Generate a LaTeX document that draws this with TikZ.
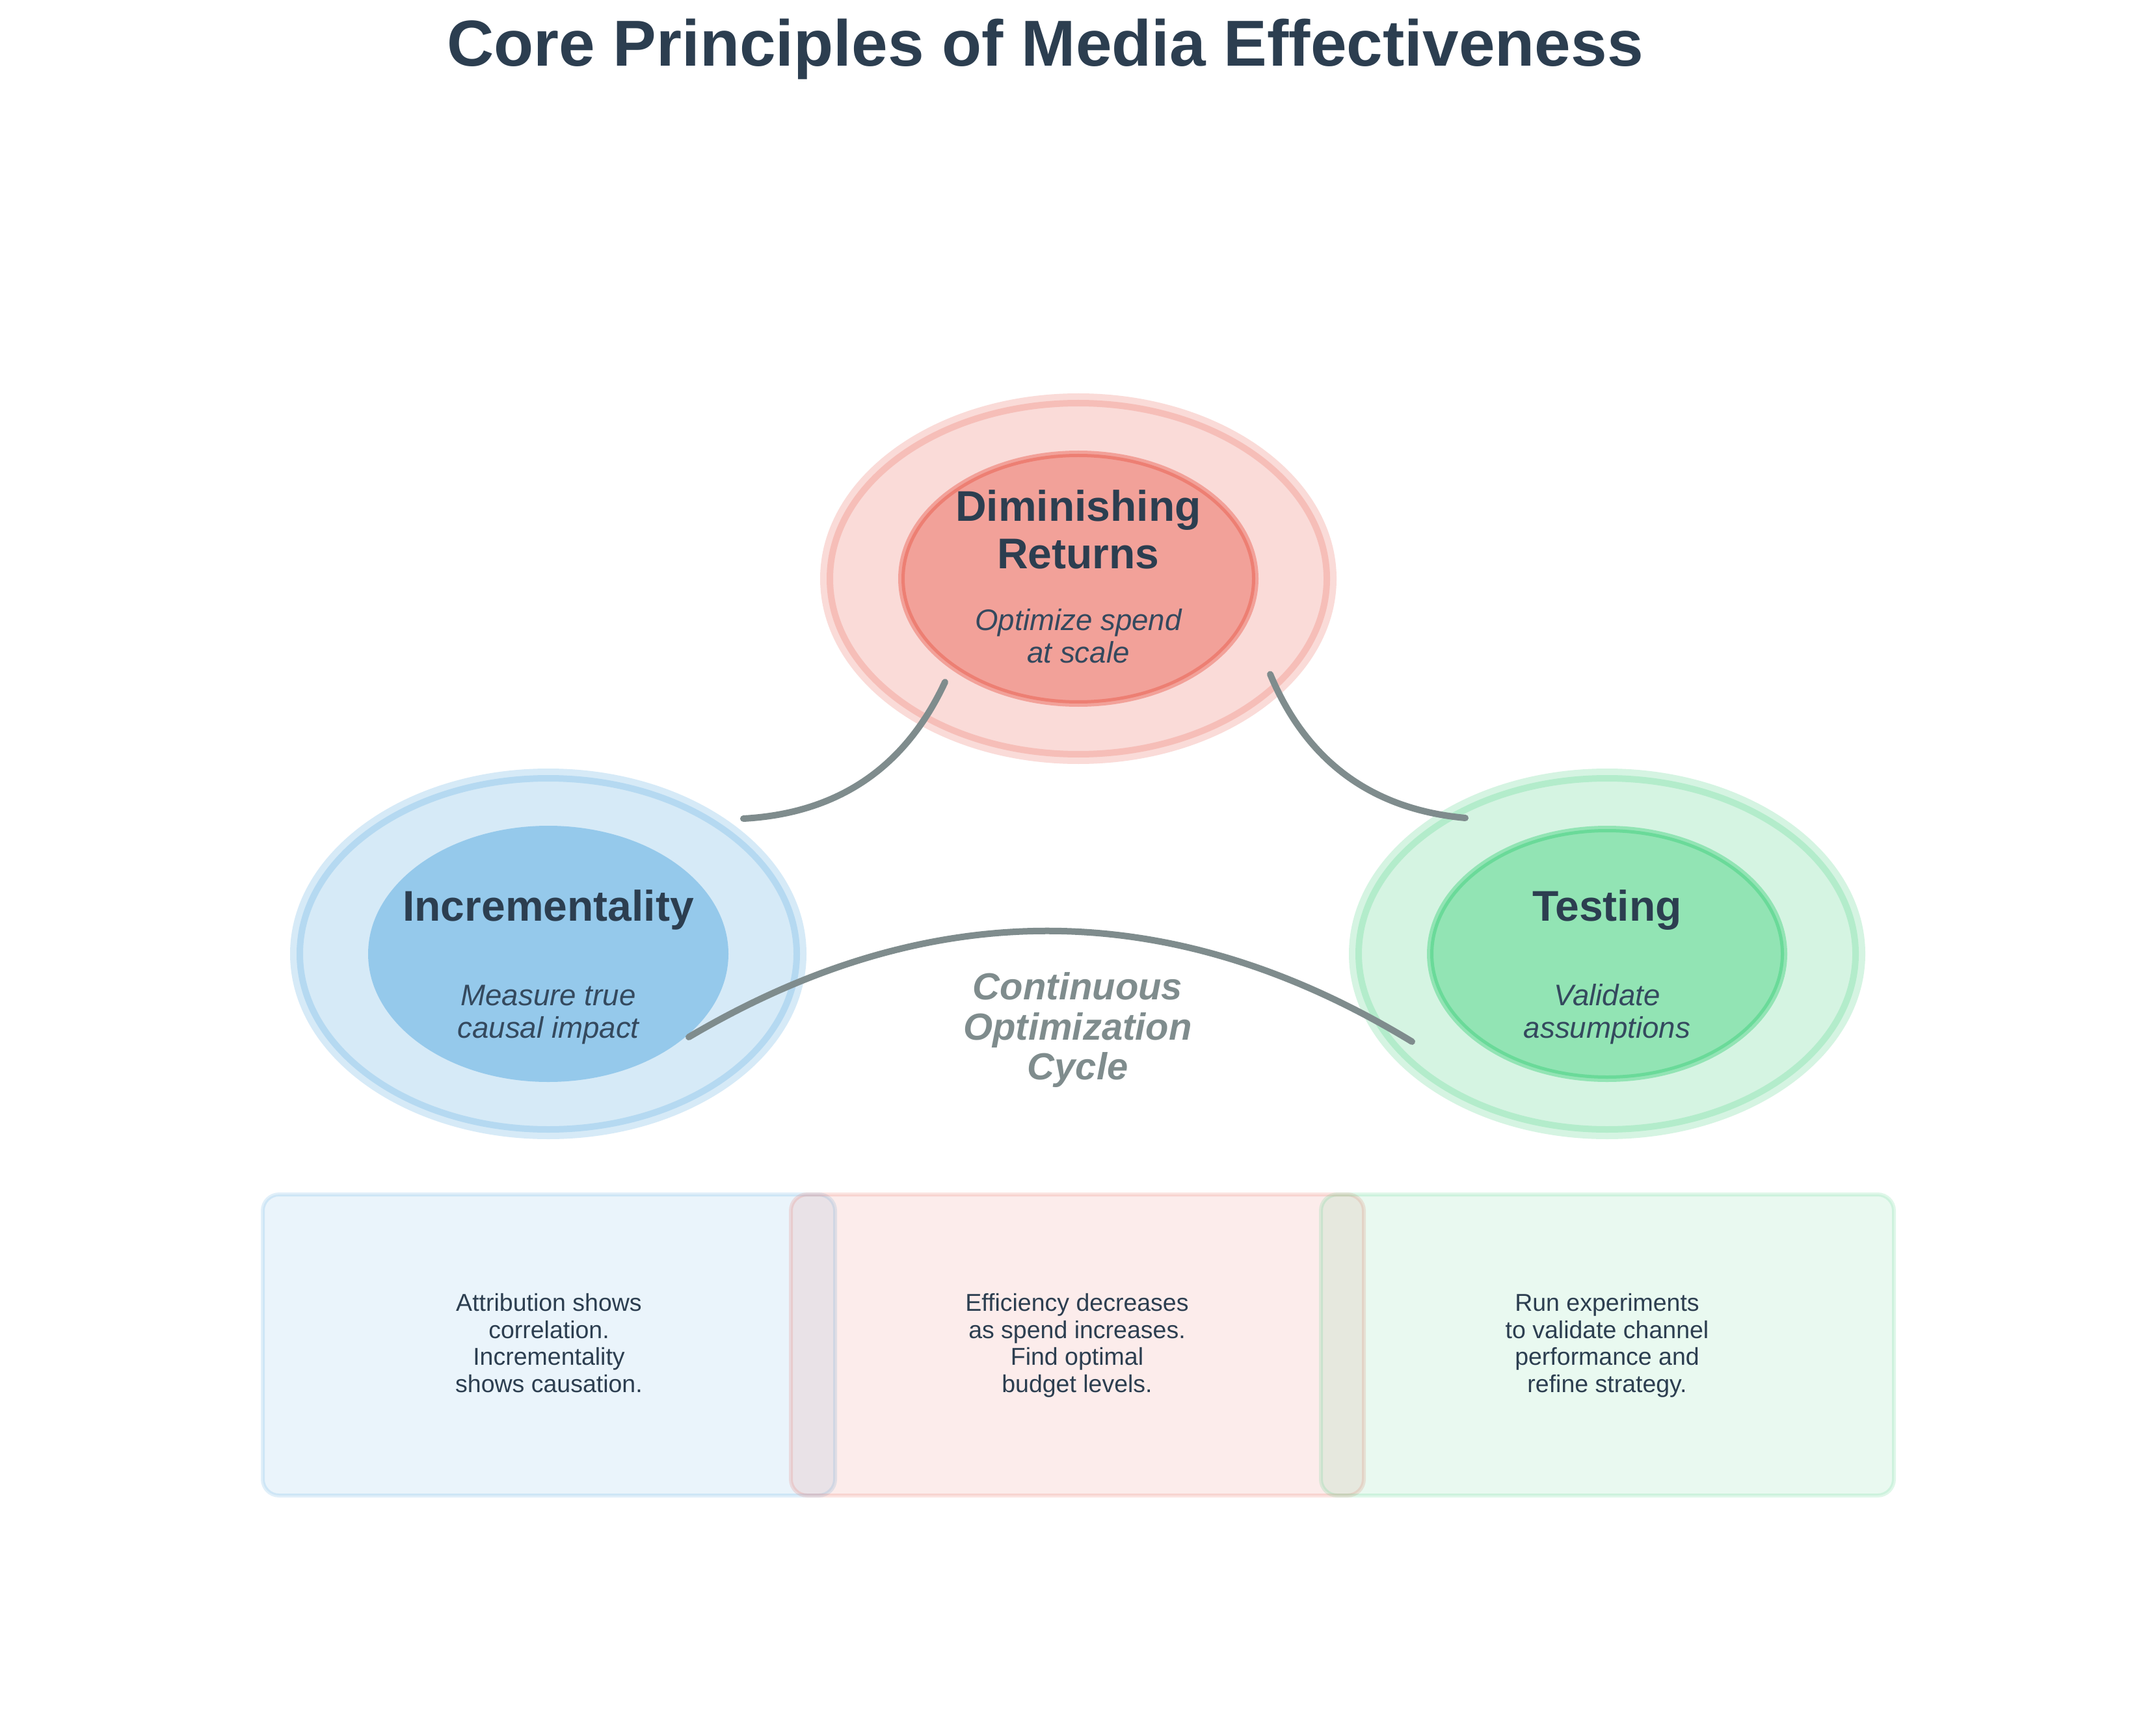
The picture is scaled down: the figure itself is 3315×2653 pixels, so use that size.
\documentclass[tikz,border=0pt]{standalone}
\usepackage{fontspec}
\setmainfont{Liberation Sans}
\usetikzlibrary{calc}
\definecolor{dark}{HTML}{2C3E50}
\definecolor{subdark}{HTML}{34495E}
\definecolor{cgray}{HTML}{7F8C8D}
\definecolor{cblue}{HTML}{3498DB}
\definecolor{cred}{HTML}{E74C3C}
\definecolor{cgreen}{HTML}{2ECC71}
\newcommand{\lst}{\rule[-0.25em]{0pt}{1.05em}}
\tikzset{
  outerring/.style={draw=#1, fill=#1, opacity=0.2, line width=6pt},
  innerring/.style={draw=#1, fill=#1, opacity=0.4, line width=3pt},
  infobox/.style={draw=#1, fill=#1, fill opacity=0.1, draw opacity=0.15, line width=1.8pt, rounded corners=7.5pt},
  cycleline/.style={draw=cgray, line width=3pt, line cap=round},
  headtext/.style={text=dark, inner sep=0pt, align=center, font=\fontsize{19.8pt}{21.9pt}\selectfont\bfseries},
  subtext/.style={text=subdark, inner sep=0pt, align=center, anchor=north, font=\fontsize{13.7pt}{15pt}\selectfont\itshape},
  boxtext/.style={text=dark, inner sep=0pt, align=center, anchor=north, font=\fontsize{11.25pt}{12.45pt}\selectfont},
}
\begin{document}
\begin{tikzpicture}[x=0.3pt, y=-0.3pt]
\fill[white] (0,0) rectangle (3315,2653);
\useasboundingbox (0,0) rectangle (3315,2653);

% title
\node[anchor=base, inner sep=0pt, text=dark, font=\fontsize{30pt}{33pt}\selectfont\bfseries] (title) at (1607,102) {Core Principles of Media Effectiveness};

% bottom boxes
\path[infobox=cblue]  (404,1837) rectangle (1284,2300);
\path[infobox=cred]   (1216,1837) rectangle (2097,2300);
\path[infobox=cgreen] (2031,1837) rectangle (2912,2300);
\node[boxtext] (boxI) at (844,1986) {\lst Attribution shows\\\lst correlation.\\\lst Incrementality\\\lst shows causation.};
\node[boxtext] (boxD) at (1656,1986) {\lst Efficiency decreases\\\lst as spend increases.\\\lst Find optimal\\\lst budget levels.};
\node[boxtext] (boxT) at (2471,1986) {\lst Run experiments\\\lst to validate channel\\\lst performance and\\\lst refine strategy.};

% ellipses
\path[outerring=cred]   (1658,890)  ellipse [x radius=116.1pt, y radius=82.5pt];
\path[innerring=cred]   (1658,890)  ellipse [x radius=81.6pt, y radius=57.6pt];
\path[outerring=cblue]  (843,1467)  ellipse [x radius=116.1pt, y radius=82.5pt];
\path[fill=cblue, fill opacity=0.4] (843,1467) ellipse [x radius=83.1pt, y radius=59.1pt];
\path[outerring=cgreen] (2471,1467) ellipse [x radius=116.1pt, y radius=82.5pt];
\path[innerring=cgreen] (2471,1467) ellipse [x radius=81.6pt, y radius=57.6pt];

% connector end points
\coordinate (d1) at (1453,1049);
\coordinate (i1) at (1143,1259);
\coordinate (q1) at (1361,1247);
\coordinate (t2) at (2253,1258);
\coordinate (d2) at (1953,1037);
\coordinate (q2) at (2037,1238);
\coordinate (i3) at (1059,1595);
\coordinate (t3) at (2171,1602);
\coordinate (q3) at (1617,1265);

\draw[cycleline] (d1) .. controls ($(d1)!2/3!(q1)$) and ($(i1)!2/3!(q1)$) .. (i1);
\draw[cycleline] (t2) .. controls ($(t2)!2/3!(q2)$) and ($(d2)!2/3!(q2)$) .. (d2);
\draw[cycleline] (i3) .. controls ($(i3)!2/3!(q3)$) and ($(t3)!2/3!(q3)$) .. (t3);

% ellipse texts
\node[headtext, anchor=north] (dimT) at (1658,748.2) {\lst Diminishing\\\lst Returns};
\node[subtext] (dimS) at (1658,932.5) {\lst Optimize spend\\\lst at scale};
\node[headtext, anchor=base] (incT) at (843,1416) {Incrementality};
\node[subtext] (incS) at (843,1509.5) {\lst Measure true\\\lst causal impact};
\node[headtext, anchor=base] (tesT) at (2471,1416) {Testing};
\node[subtext] (tesS) at (2471,1509.5) {\lst Validate\\\lst assumptions};

% cycle label
\node[text=cgray, inner sep=0pt, align=center, anchor=north, font=\fontsize{17.4pt}{18.45pt}\selectfont\bfseries\itshape] (cycle) at (1657,1490.6) {\lst Continuous\\\lst Optimization\\\lst Cycle};
\end{tikzpicture}
\end{document}
